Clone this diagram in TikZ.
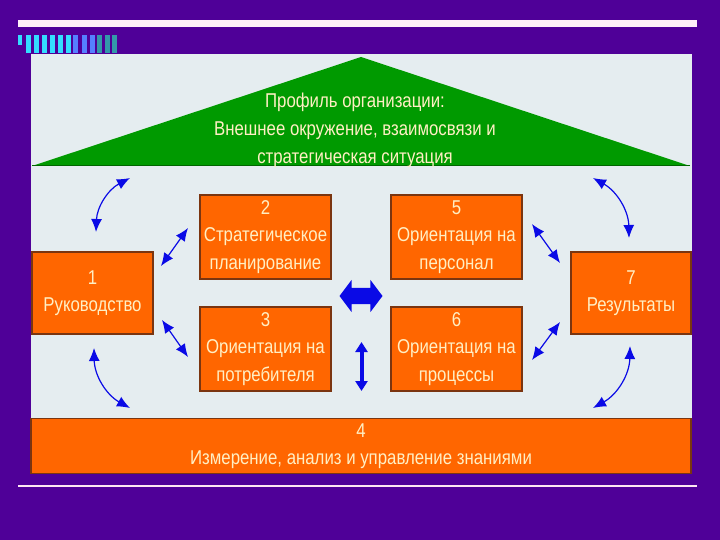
\documentclass[tikz,border=0pt]{standalone}
\usepackage{fontspec}
\setmainfont{Liberation Sans}[FakeStretch=0.84]
\usetikzlibrary{arrows.meta, shapes.arrows}
\definecolor{cpurple}{HTML}{4F0098}
\definecolor{cpanel}{HTML}{E5EDF0}
\definecolor{cgreen}{HTML}{009A00}
\definecolor{corange}{HTML}{FF6600}
\definecolor{cbrown}{HTML}{7A3510}
\definecolor{ccream}{HTML}{FFEFC4}
\definecolor{cblue}{HTML}{0A0AE6}
\definecolor{ccyan}{HTML}{33DDFF}
\definecolor{cmid}{HTML}{5580FF}
\definecolor{cteal}{HTML}{3399AA}
\tikzset{
  every picture/.style={x=1pt, y=-1pt},
  box/.style={draw=cbrown, fill=corange, line width=1.5pt, text=ccream, align=center,
    font=\fontsize{20}{27.5}\selectfont, inner sep=0pt},
  link/.style={{Latex[length=13pt,width=11pt]}-{Latex[length=13pt,width=11pt]}, draw=cblue, line width=1.2pt},
  roof/.style={text=ccream, align=center, font=\fontsize{20}{28}\selectfont},
}

\begin{document}
\begin{tikzpicture}
  \useasboundingbox (0,0) rectangle (720,540);
  \fill[cpurple] (0,0) rectangle (720,540);
  % slide decoration
  \fill[white!94!magenta] (18,20) rectangle (697,27);
  \fill[ccyan] (18,35) rectangle (22,45);
  \foreach \x/\c in {26/ccyan,34/ccyan,42/ccyan,50/ccyan,58/ccyan,66/ccyan,73/cmid,82/cmid,90/cmid,97/cteal,105/cteal,112/cteal} {
    \fill[\c] (\x,35) rectangle +(4.5,18);
  }
  \fill[cpanel] (31,54) rectangle (692,474);
  \draw[white!90!magenta, line width=1.5pt] (18,486) -- (697,486);
  % roof
  \fill[cgreen] (32,166) -- (361,57) -- (690,166) -- cycle;
  \draw[black!60!green, line width=1pt] (32,166) -- (690,166);
  \node[roof] (profile) at (355,130) {Профиль организации:\\Внешнее окружение, взаимосвязи и\\стратегическая ситуация};
  % boxes
  \node[box, minimum width=121pt, minimum height=82pt] (lead) at (92.5,293) {1\\Руководство};
  \node[box, minimum width=131pt, minimum height=84pt] (plan) at (265.5,237) {2\\Стратегическое\\планирование};
  \node[box, minimum width=131pt, minimum height=84pt] (cust) at (265.5,349) {3\\Ориентация на\\потребителя};
  \node[box, minimum width=131pt, minimum height=84pt] (staff) at (456.5,237) {5\\Ориентация на\\персонал};
  \node[box, minimum width=131pt, minimum height=84pt] (proc) at (456.5,349) {6\\Ориентация на\\процессы};
  \node[box, minimum width=120pt, minimum height=82pt] (result) at (631,293) {7\\Результаты};
  \node[box, minimum width=660pt, minimum height=55pt] (know) at (361,446) {4\\Измерение, анализ и управление знаниями};
  % arrow ends
  \coordinate (lt1) at (96,232);  \coordinate (lt2) at (130,178);
  \coordinate (lb1) at (94,348);  \coordinate (lb2) at (130,408);
  \coordinate (rt1) at (593,178); \coordinate (rt2) at (629,238);
  \coordinate (rb1) at (630,346); \coordinate (rb2) at (593,408);
  \coordinate (d12a) at (161,266); \coordinate (d12b) at (188,228);
  \coordinate (d13a) at (162,320); \coordinate (d13b) at (188,357);
  \coordinate (d57a) at (532,224); \coordinate (d57b) at (560,263);
  \coordinate (d67a) at (560,322); \coordinate (d67b) at (532,360);
  \coordinate (vtop) at (361.5,342); \coordinate (vbot) at (361.5,391);
  % arrows
  \draw[link] (lt1) to[bend left=30] (lt2);
  \draw[link] (lb1) to[bend right=30] (lb2);
  \draw[link] (rt1) to[bend left=30] (rt2);
  \draw[link] (rb1) to[bend left=30] (rb2);
  \draw[link] (d12a) -- (d12b);
  \draw[link] (d13a) -- (d13b);
  \draw[link] (d57a) -- (d57b);
  \draw[link] (d67a) -- (d67b);
  \node[double arrow, fill=cblue, minimum height=43pt, inner sep=8pt,
    double arrow head extend=8pt, double arrow tip angle=106] (swap) at (361,296) {};
  \draw[{Triangle[length=10pt,width=12pt]}-{Triangle[length=10pt,width=12pt]}, cblue, line width=4pt] (vtop) -- (vbot);
\end{tikzpicture}
\end{document}
